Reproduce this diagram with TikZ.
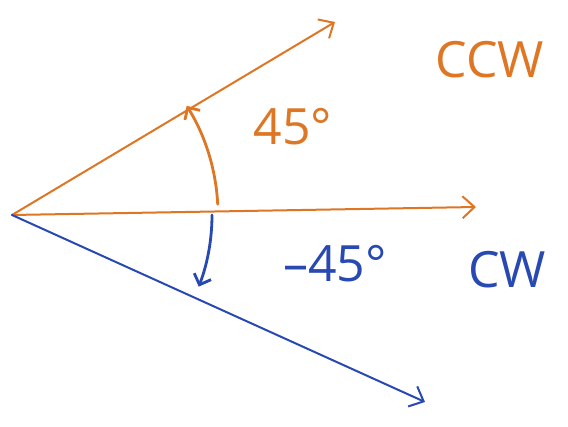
\documentclass[tikz,border=0pt]{standalone}
\usepackage{fontspec}
\setmainfont{Open Sans}
\usetikzlibrary{arrows.meta}
\definecolor{penorange}{RGB}{222,118,36}
\definecolor{penblue}{RGB}{40,72,178}
\tikzset{
  vec/.style={line width=2pt, line cap=round, -{Straight Barb[length=12pt,width=22pt,line width=2pt]}},
  turn/.style={line width=2.8pt, line cap=round, -{Straight Barb[length=9pt,width=18pt,line width=2.8pt]}},
  lbl/.style={font=\fontsize{50}{50}\selectfont}
}
\begin{document}
\begin{tikzpicture}[x=1pt,y=1pt]
\useasboundingbox (0,0) rectangle (568,427);
\fill[white] (0,0) rectangle (568,427);
\coordinate (O) at (12,212);
\coordinate (A) at (335,405);
\coordinate (B) at (476,220);
\coordinate (C) at (425,25);
\draw[vec, penorange] (O) -- (A);
\draw[vec, penorange] (O) -- (B);
\draw[vec, penblue] (O) -- (C);
\draw[turn, penorange] (O) ++(3:206) arc[start angle=3, end angle=32, radius=206];
\draw[turn, penblue] (O) ++(0:200) arc[start angle=0, end angle=-21, radius=200];
\node[lbl, text=penorange] (t45) at (293,300) {45°};
\node[lbl, text=penorange] (ccw) at (490,367) {CCW};
\node[lbl, text=penblue] (tm45) at (335,163) {–45°};
\node[lbl, text=penblue] (cw) at (507,157) {CW};
\end{tikzpicture}
\end{document}
